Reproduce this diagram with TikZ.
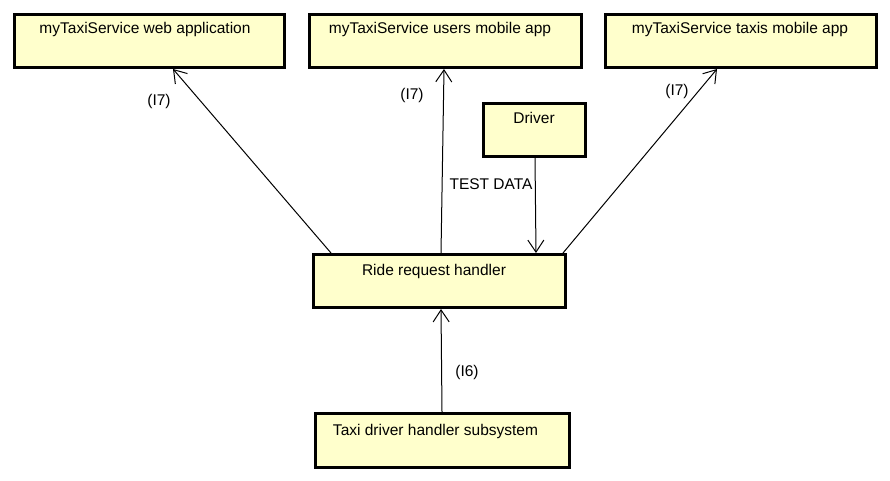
\documentclass[tikz,border=0pt]{standalone}
\usepackage{fontspec}
\setmainfont{Liberation Sans}
\usetikzlibrary{arrows.meta}
\definecolor{boxfill}{RGB}{255,255,204}
\begin{document}
\begin{tikzpicture}[x=1pt,y=-1pt,
  box/.style={draw=black, line width=3pt, fill=boxfill, inner sep=0pt, rectangle},
  txt/.style={font=\fontsize{15.5}{18}\selectfont, inner sep=0pt, anchor=base},
  lbl/.style={font=\fontsize{15.5}{18}\selectfont, inner sep=0pt},
  conn/.style={draw=black, line width=1pt, -{Straight Barb[length=12pt,width=16pt,line width=1pt]}}
]
\useasboundingbox[fill=white] (0,0) rectangle (890,481);
% boxes (outer extents minus line width)
\node[box, minimum width=270pt, minimum height=53pt] (web) at (149.5,41) {};
\node[box, minimum width=272pt, minimum height=53pt] (users) at (445.5,41) {};
\node[box, minimum width=271pt, minimum height=53pt] (taxis) at (741,41) {};
\node[box, minimum width=102pt, minimum height=53pt] (driver) at (534.5,130) {};
\node[box, minimum width=252pt, minimum height=53pt] (ride) at (439.5,281) {};
\node[box, minimum width=254pt, minimum height=54pt] (tdh) at (442.5,440.5) {};
% box texts
\node[txt] (webt) at (145,34) {myTaxiService web application};
\node[txt] (userst) at (440,34) {myTaxiService users mobile app};
\node[txt] (taxist) at (740,34) {myTaxiService taxis mobile app};
\node[txt] (drivert) at (534,124) {Driver};
\node[txt] (ridet) at (434,275) {Ride request handler};
\node[txt] (tdht) at (435.5,435) {Taxi driver handler subsystem};
% connectors
\draw[conn] ([xshift=-108.5pt]ride.north) -- ([xshift=23.5pt]web.south);
\draw[conn] ([xshift=1.5pt]ride.north) -- ([xshift=-1.5pt]users.south);
\draw[conn] ([xshift=123.5pt]ride.north) -- ([xshift=-24pt]taxis.south);
\draw[conn] ([xshift=0.5pt]driver.south) -- ([xshift=96.5pt]ride.north);
\draw[conn] ([xshift=-0.5pt]tdh.north) -- ([xshift=1.5pt]ride.south);
% labels
\node[lbl] (l1) at (159,101) {(I7)};
\node[lbl] (l2) at (412,95) {(I7)};
\node[lbl] (l3) at (677,91) {(I7)};
\node[lbl] (l4) at (491,184) {TEST DATA};
\node[lbl] (l5) at (467,372) {(I6)};
\end{tikzpicture}
\end{document}
